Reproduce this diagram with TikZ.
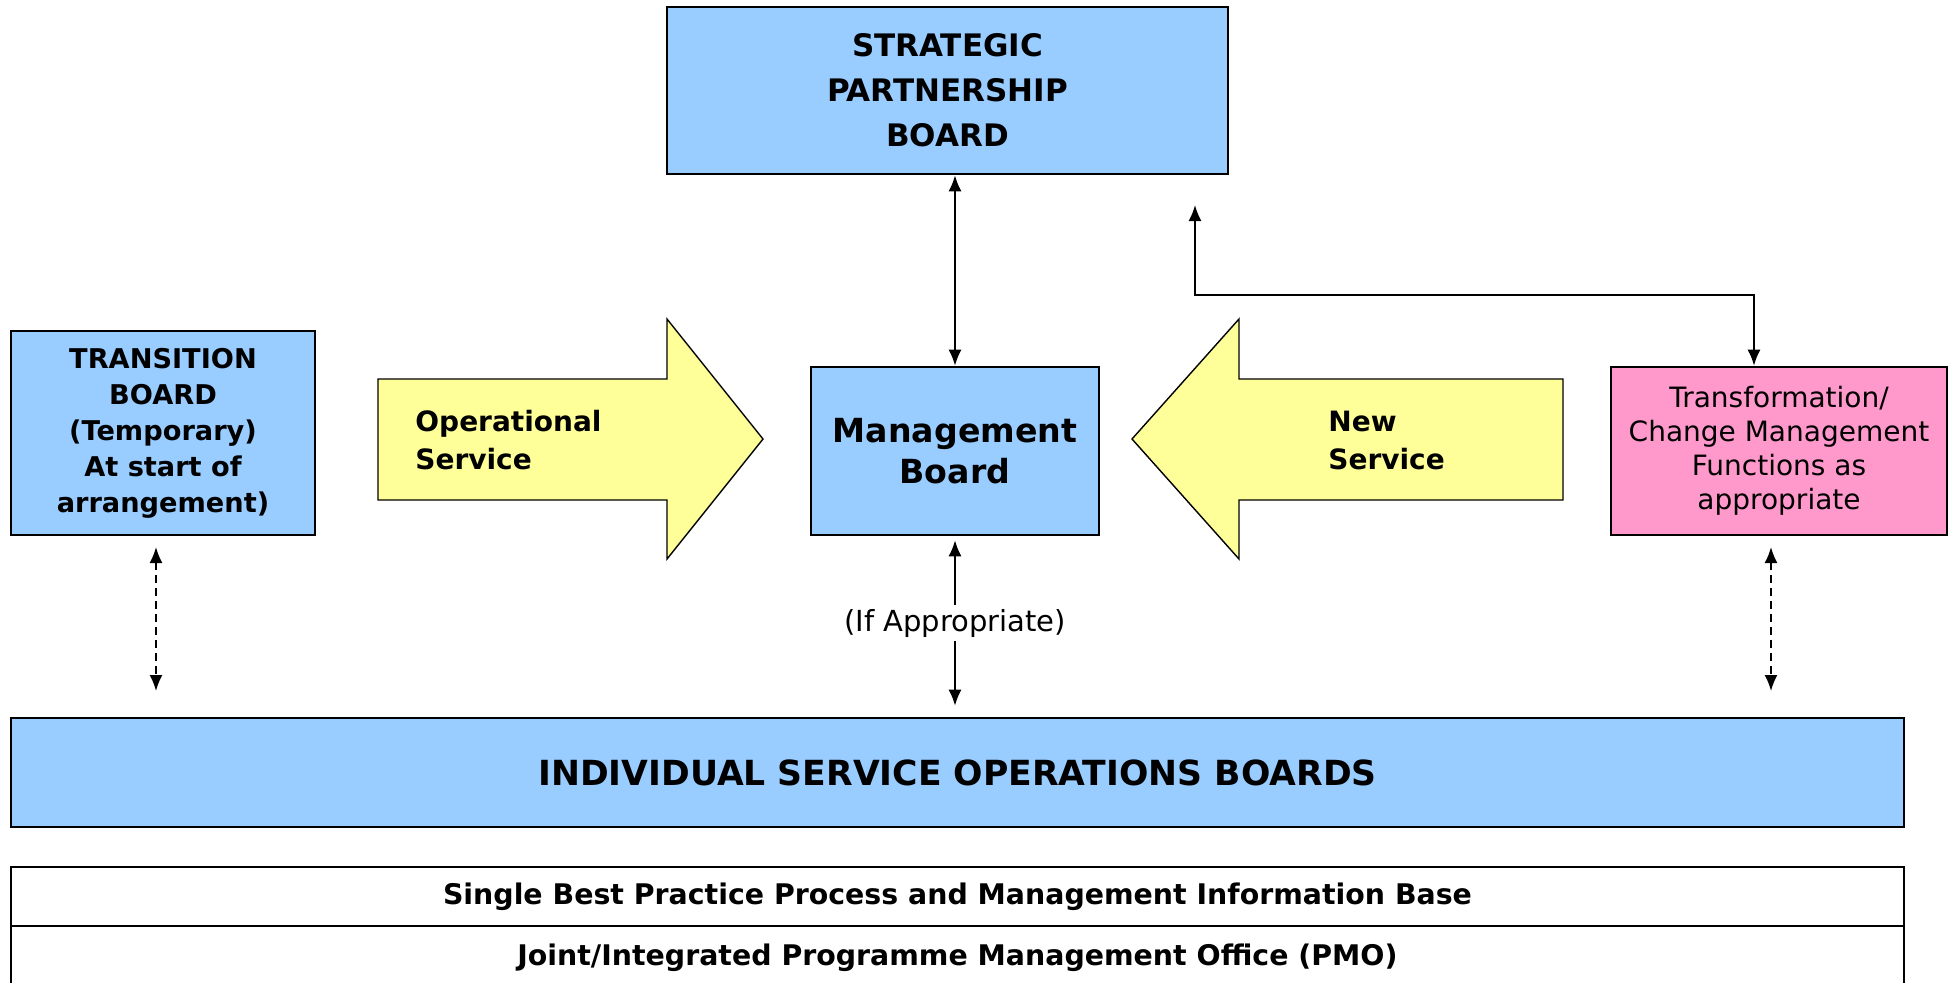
\documentclass[tikz,border=0pt]{standalone}
\usepackage{fontspec}
\setmainfont{DejaVu Sans}
\usetikzlibrary{arrows.meta}
\definecolor{boxblue}{HTML}{99CCFF}
\definecolor{arrowyellow}{HTML}{FFFF99}
\definecolor{boxpink}{HTML}{FF99CC}
\tikzset{
  board/.style={draw=black, line width=1.3pt, fill=boxblue, align=center, inner sep=0pt},
  pinkbox/.style={board, fill=boxpink},
  plainrow/.style={draw=black, line width=1.3pt, fill=white, align=center, inner sep=0pt},
  conn/.style={line width=0.9pt, {Latex[length=8pt,width=6.5pt]}-{Latex[length=8pt,width=6.5pt]}},
  dconn/.style={conn, dash pattern=on 4pt off 2.5pt},
  bigarrow/.style={draw=black, line width=0.7pt, fill=arrowyellow, line join=miter},
  arrowtext/.style={align=left, anchor=west, inner sep=0pt}
}
\begin{document}
\begin{tikzpicture}[x=0.5pt,y=-0.5pt]
\clip (0,0) rectangle (1951,982);
\fill[white] (0,0) rectangle (1951,982);

% boards
\node[board, minimum width=280.5pt, minimum height=83.5pt,
      font=\bfseries\fontsize{15.5}{22.5}\selectfont] (sp) at (947.5,90.5)
      {STRATEGIC\\PARTNERSHIP\\BOARD};
\node[board, minimum width=144pt, minimum height=84pt,
      font=\bfseries\fontsize{16.6}{20.5}\selectfont] (mb) at (955,451)
      {Management\\Board};
\node[board, minimum width=152pt, minimum height=102pt,
      font=\bfseries\fontsize{13.6}{18}\selectfont] (tb) at (163,433)
      {TRANSITION\\BOARD\\(Temporary)\\At start of\\arrangement)};
\node[pinkbox, minimum width=168pt, minimum height=84pt,
      font=\fontsize{14}{17}\selectfont] (tf) at (1779,451)
      {Transformation/\\Change Management\\Functions as\\appropriate};
\node[board, minimum width=946.5pt, minimum height=54.5pt,
      font=\bfseries\fontsize{17.3}{20}\selectfont] (isob) at (957.5,772.5)
      {INDIVIDUAL SERVICE OPERATIONS BOARDS};
\node[plainrow, minimum width=946.5pt, minimum height=29.5pt,
      font=\bfseries\fontsize{14.2}{17}\selectfont] (bp) at (957.5,896.5)
      {Single Best Practice Process and Management Information Base};
\node[plainrow, minimum width=946.5pt, minimum height=32pt,
      font=\bfseries\fontsize{14.2}{17}\selectfont] (pmo) at (957.5,958)
      {Joint/Integrated Programme Management Office (PMO)};

% big arrows
\draw[bigarrow] (378,379) -- (667,379) -- (667,319) -- (763,439) -- (667,559) -- (667,500) -- (378,500) -- cycle;
\node[arrowtext, font=\bfseries\fontsize{14}{19}\selectfont] (ops) at (415,440) {Operational\\Service};
\draw[bigarrow] (1563,379) -- (1239,379) -- (1239,319) -- (1132,439) -- (1239,559) -- (1239,500) -- (1563,500) -- cycle;
\node[arrowtext, font=\bfseries\fontsize{14}{19}\selectfont] (nsv) at (1328,440) {New\\Service};

% connectors
\draw[conn] (mb.north) -- (mb.north |- sp.south);
\coordinate (e1) at (1195,205);
\coordinate (e2) at (1754,295);
\draw[conn] (e1) |- (e2) -- (e2 |- tf.north);
\coordinate (t1) at (156,547);
\coordinate (t2) at (156,691);
\draw[dconn] (t1) -- (t2);
\coordinate (r1) at (1771,547);
\coordinate (r2) at (1771,691);
\draw[dconn] (r1) -- (r2);
\draw[conn] ([yshift=-2pt]mb.south) -- ([yshift=5.5pt]mb.south |- isob.north)
   node[midway, fill=white, inner sep=2pt, font=\fontsize{14.5}{17}\selectfont] (ifa) {(If Appropriate)};
\end{tikzpicture}
\end{document}
